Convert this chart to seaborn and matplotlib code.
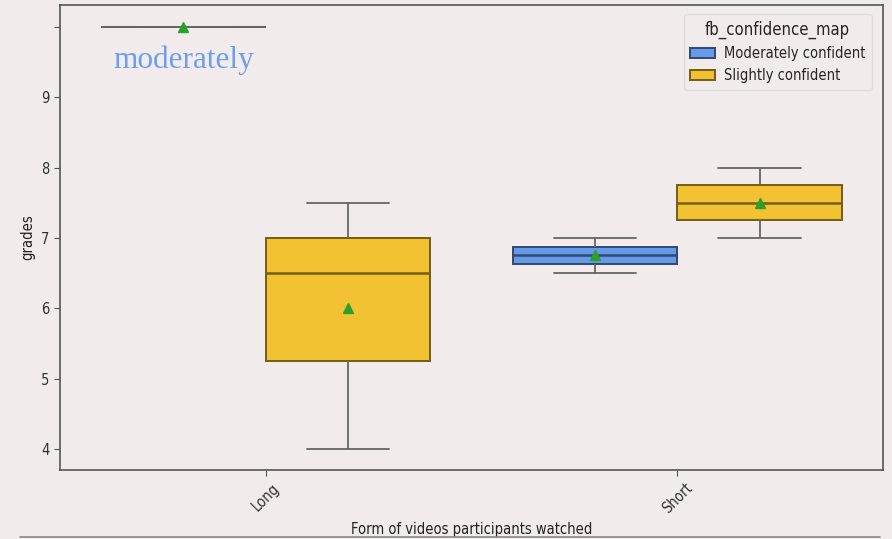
import matplotlib
matplotlib.use("Agg")
import matplotlib.pyplot as plt
import matplotlib.colors as mcolors
from matplotlib.lines import Line2D
import seaborn as sns
import pandas as pd

# Grades per video form and confidence group
long_moderate = [10.0]
long_slight = [4.0, 4.0, 5.25, 5.25, 6.5, 7.0, 7.0, 7.5, 7.5]
short_moderate = [6.5, 7.0]
short_slight = [7.0, 8.0]

forms = ["Long", "Short"]
groups = ["Moderately confident", "Slightly confident"]
palette = {"Moderately confident": "#6699e8", "Slightly confident": "#f2c232"}
ytick_values = [4, 5, 6, 7, 8, 9, 10]
ytick_labels = ["4", "5", "6", "7", "8", "9", ""]

rows = []
for form, group, vals in [
    ("Long", "Moderately confident", long_moderate),
    ("Long", "Slightly confident", long_slight),
    ("Short", "Moderately confident", short_moderate),
    ("Short", "Slightly confident", short_slight),
]:
    for v in vals:
        rows.append({"form": form, "fb_confidence_map": group, "grades": v})
df = pd.DataFrame(rows)

bg = "#f1ebeb"
sns.set_style("ticks")
plt.rcParams["font.family"] = ["DejaVu Sans"]
plt.rcParams["font.stretch"] = "condensed"

fig = plt.figure(figsize=(8.92, 5.39), dpi=100, facecolor=bg)
ax = fig.add_axes([0.0673, 0.128, 0.9227, 0.8627])
ax.set_facecolor(bg)

sns.boxplot(
    data=df, x="form", y="grades", hue="fb_confidence_map",
    order=forms, hue_order=groups, palette=palette, saturation=1,
    width=0.8, gap=0, showmeans=True, ax=ax,
    linewidth=1.3, linecolor="#666666",
    meanprops=dict(marker="^", markerfacecolor="#2ca02c",
                   markeredgecolor="#2ca02c", markersize=7),
)

# Darker edge and median in the hue of each box
def darken(c, f=0.45):
    r, g, b = mcolors.to_rgb(c)
    return (r * f, g * f, b * f)

for patch in ax.patches:
    fc = patch.get_facecolor()
    patch.set_edgecolor(darken(fc, 0.48))
    patch.set_linewidth(1.4)

for line in ax.lines:
    xd = line.get_xdata()
    if len(xd) == 2 and line.get_marker() in ("None", None, ""):
        yd = line.get_ydata()
        if yd[0] == yd[1]:
            xm = (xd[0] + xd[1]) / 2
            # median lines span the full box width
            if abs(xd[1] - xd[0]) > 0.3:
                for patch in ax.patches:
                    bb = patch.get_path().get_extents(patch.get_transform() - ax.transData)
                    if bb.x0 - 1e-6 <= xm <= bb.x1 + 1e-6 and bb.y0 - 1e-6 <= yd[0] <= bb.y1 + 1e-6 and bb.height > 0:
                        line.set_color(darken(patch.get_facecolor(), 0.48))
                        line.set_linewidth(1.8)

ax.set_ylim(3.7, 10.31)
ax.set_xlim(-0.5, 1.5)
ax.set_yticks(ytick_values)
ax.set_yticklabels(ytick_labels)
ax.tick_params(axis="both", labelsize=10.5, colors="#333333", length=4, color="#555555")
plt.setp(ax.get_xticklabels(), rotation=45)
ax.set_xlabel("Form of videos participants watched", fontsize=10.5, color="#222222")
ax.set_ylabel("grades", fontsize=10.5, color="#222222")
for s in ax.spines.values():
    s.set_visible(True)
    s.set_color("#555555")
    s.set_linewidth(1.2)

ax.text(-0.2, 9.31, "moderately", color="#6d9eeb", fontsize=22.5,
        family="Liberation Serif", stretch="normal", ha="center", va="bottom")

leg = ax.legend(title="fb_confidence_map", loc="upper right",
                bbox_to_anchor=(0.995, 0.997), fontsize=10.5,
                title_fontsize=12, frameon=True, facecolor=bg,
                edgecolor="#dddddd", framealpha=1,
                handlelength=1.7, handletextpad=0.6, borderpad=0.45)

fig.add_artist(Line2D([0.022, 0.987], [0.004, 0.004], transform=fig.transFigure,
                      color="#888888", linewidth=1.2))

fig.savefig("out.png", dpi=100, facecolor=bg)
